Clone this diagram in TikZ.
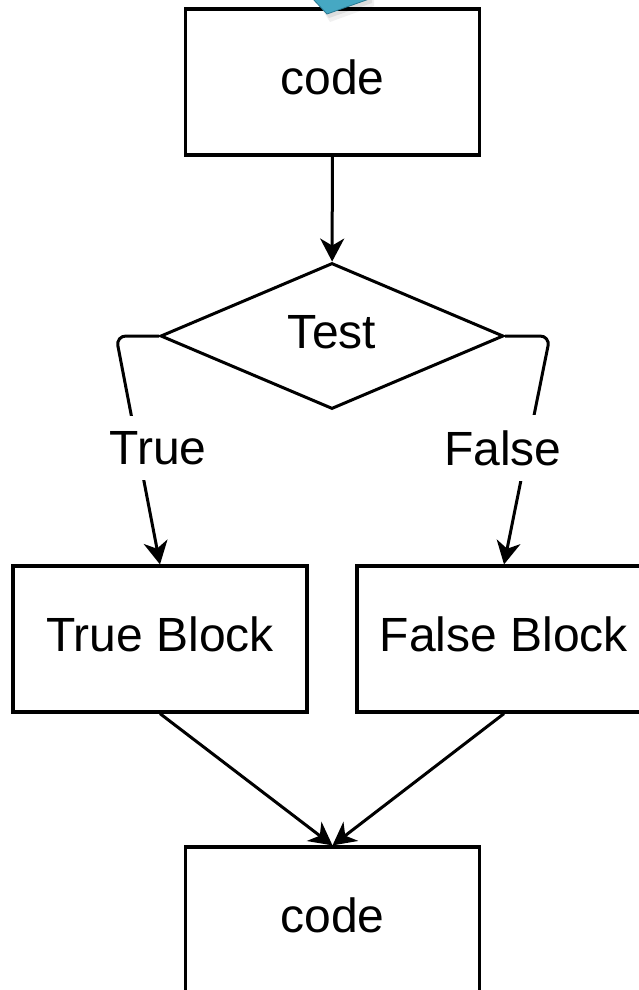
\documentclass[tikz,border=0pt]{standalone}
\usepackage{fontspec}
\setmainfont{Liberation Sans}
\usetikzlibrary{shapes.geometric,arrows.meta}
\definecolor{tealblue}{RGB}{70,168,195}
\definecolor{tealdark}{RGB}{40,120,145}
\begin{document}
\begin{tikzpicture}[x=1pt,y=-1pt,
  box/.style={draw=black,line width=3.2pt,rectangle,minimum width=294pt,minimum height=146pt,inner sep=0pt,
    font=\fontsize{48}{56}\selectfont,text height=36pt,text depth=12pt},
  decision/.style={draw=black,line width=3pt,diamond,minimum width=343pt,minimum height=146pt,inner sep=0pt,aspect=2.35,
    font=\fontsize{48}{56}\selectfont,text height=36pt,text depth=12pt},
  edgelabel/.style={fill=white,inner xsep=3pt,inner ysep=15pt,font=\fontsize{48}{56}\selectfont},
  arr/.style={line width=3pt,-{Stealth[length=23pt,width=24pt,inset=7pt]}}]
\useasboundingbox (0,0) rectangle (638,990);
\fill[white] (0,0) rectangle (638,990);

\node[box] (c1) at (332.5,82) {code};
\node[decision] (dia) at (332,336) {Test};
\node[box] (tb) at (160,639) {True Block};
\node[box] (fb) at (504,639) {False Block};
\node[box] (c2) at (332.5,920) {code};

\coordinate (lc) at (116,336);
\coordinate (rc) at (550,336);

\draw[arr] (c1) -- (dia);
\draw[arr,rounded corners=10pt] (dia.west) -- (lc) -- (tb.north);
\draw[arr,rounded corners=10pt] (dia.east) -- (rc) -- (fb.north);
\node[edgelabel] (lt) at (158,448) {True};
\node[edgelabel] (lf) at (503,448) {False};
\draw[arr] (tb.south) -- (c2.north);
\draw[arr] (fb.south) -- (c2.north);

% partial blue shape at top
\begin{scope}
\clip (0,0) rectangle (638,990);
\fill[black,opacity=0.06] (316,0) -- (330,22) -- (374,6) -- (374,0) -- cycle;
\fill[black,opacity=0.08] (315,0) -- (329,18) -- (372,3) -- (372,0) -- cycle;
\filldraw[fill=tealblue,draw=tealdark,line width=0.8pt,line join=round] (312,-2) -- (327,14) -- (372,-2) -- cycle;
\end{scope}
\end{tikzpicture}
\end{document}
